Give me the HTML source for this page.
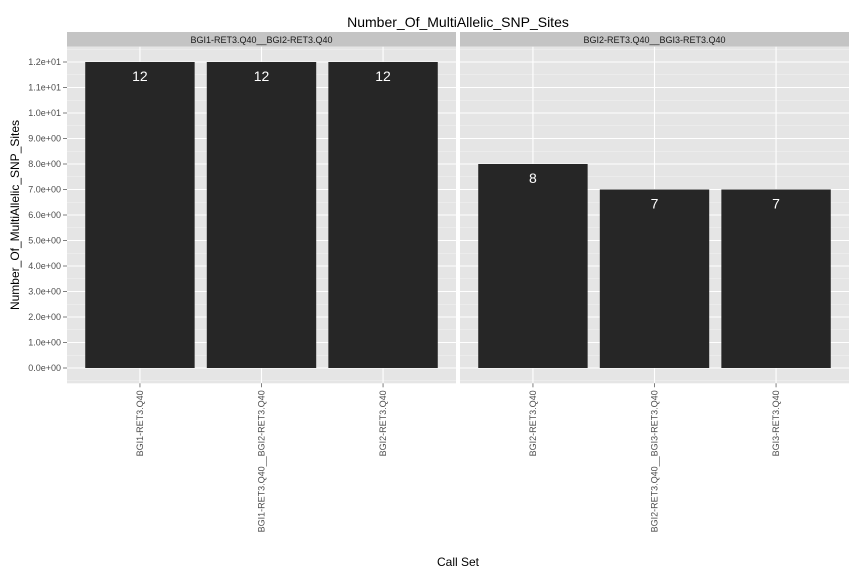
<!DOCTYPE html>
<html><head><meta charset="utf-8"><style>body{margin:0;background:#fff}svg{display:block;font-family:"Liberation Sans",sans-serif}</style></head>
<body>
<svg id="c" width="864" height="576"></svg>
<script>
const panels=["BGI1-RET3.Q40__BGI2-RET3.Q40","BGI2-RET3.Q40__BGI3-RET3.Q40"];
const cats1=["BGI1-RET3.Q40","BGI1-RET3.Q40__BGI2-RET3.Q40","BGI2-RET3.Q40"];
const cats2=["BGI2-RET3.Q40","BGI2-RET3.Q40__BGI3-RET3.Q40","BGI3-RET3.Q40"];
const vals1=[12,12,12];
const vals2=[8,7,7];
const yTicks=[0,1,2,3,4,5,6,7,8,9,10,11,12];
const yLabels=["0.0e+00","1.0e+00","2.0e+00","3.0e+00","4.0e+00","5.0e+00","6.0e+00","7.0e+00","8.0e+00","9.0e+00","1.0e+01","1.1e+01","1.2e+01"];
const NS="http://www.w3.org/2000/svg",svg=document.getElementById('c');
function el(t,a,p){const e=document.createElementNS(NS,t);for(const k in a)e.setAttribute(k,a[k]);(p||svg).appendChild(e);return e;}
const yTop=46.7,yBot=383.3,ymin=-0.6,ymax=12.6;
const y=v=>yBot-(v-ymin)/(ymax-ymin)*(yBot-yTop);
const pw=389,px=[67,460];
function xs(i,p){return px[p]+(i+1-0.4)/3.2*pw;}
let t=el('text',{x:458,y:27,'text-anchor':'middle','font-size':14,fill:'#000'});


t.textContent="Number_Of_MultiAllelic_SNP_Sites";
[[cats1,vals1],[cats2,vals2]].forEach(([cats,vals],p)=>{
 const g=el('g',{});
 
 
 let s=el('rect',{x:px[p],y:32,width:pw,height:14.7,fill:'#c4c4c4'},g);
 
 
 let st=el('text',{x:px[p]+pw/2,y:43,'text-anchor':'middle','font-size':9,fill:'#1a1a1a'},g);
 
 
 st.textContent=panels[p];
 el('rect',{x:px[p],y:yTop,width:pw,height:yBot-yTop,fill:'#e5e5e5'},g);
 yTicks.forEach(v=>{el('line',{x1:px[p],x2:px[p]+pw,y1:y(v+0.5),y2:y(v+0.5),stroke:'#f2f2f2','stroke-width':0.6},g);
  el('line',{x1:px[p],x2:px[p]+pw,y1:y(v),y2:y(v),stroke:'#fff','stroke-width':1.1},g);});
 el('line',{x1:px[p],x2:px[p]+pw,y1:y(-0.5),y2:y(-0.5),stroke:'#f2f2f2','stroke-width':0.6},g);
 cats.forEach((c,i)=>{const cx=xs(i,p);
  el('line',{x1:cx,x2:cx,y1:yTop,y2:yBot,stroke:'#fff','stroke-width':1.1},g);});
 cats.forEach((c,i)=>{const cx=xs(i,p),bw=0.9/3.2*pw;
  let b=el('rect',{x:cx-bw/2,y:y(vals[i]),width:bw,height:y(0)-y(vals[i]),fill:'#262626'},g);
  
  
  let l=el('text',{x:cx,y:y(vals[i])+19,'text-anchor':'middle','font-size':14,fill:'#fff'},g);
  
  
  l.textContent=vals[i];
  el('line',{x1:cx,x2:cx,y1:yBot,y2:yBot+4,stroke:'#7f7f7f'},g);
  let xl=el('text',{transform:`translate(${cx+3},${yBot+7}) rotate(-90)`,'text-anchor':'end','font-size':9,fill:'#4d4d4d'},g);
  
  
  xl.textContent=c;});
});
yTicks.forEach((v,i)=>{el('line',{x1:63,x2:67,y1:y(v),y2:y(v),stroke:'#7f7f7f'});
 let l=el('text',{x:61,y:y(v)+3,'text-anchor':'end','font-size':9,fill:'#4d4d4d'});
 
 
 l.textContent=yLabels[i];});
let xt=el('text',{x:458,y:566,'text-anchor':'middle','font-size':12,fill:'#000'});


xt.textContent="Call Set";
let yt=el('text',{transform:'translate(19,215) rotate(-90)','text-anchor':'middle','font-size':12,fill:'#000'});


yt.textContent="Number_Of_MultiAllelic_SNP_Sites";
</script>
</body></html>
